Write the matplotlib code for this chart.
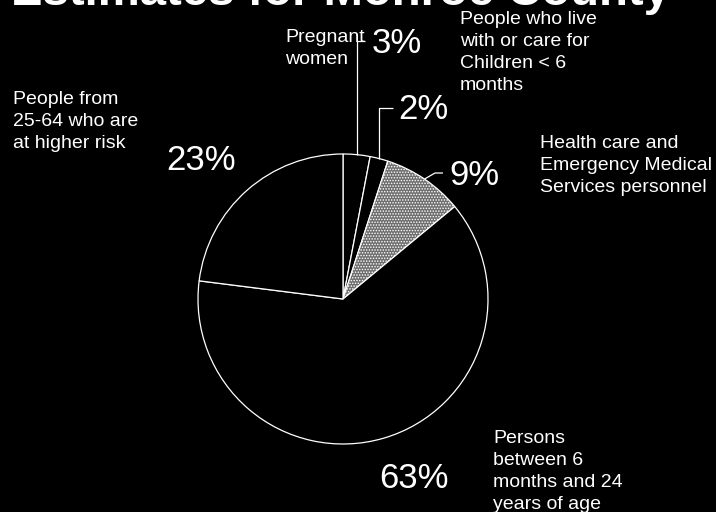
import matplotlib
matplotlib.use("Agg")
import matplotlib.pyplot as plt
import numpy as np

# ---- data ----
title = "Estimates for Monroe County"
categories = [
    "Pregnant\nwomen",
    "People who live\nwith or care for\nChildren < 6\nmonths",
    "Health care and\nEmergency Medical\nServices personnel",
    "Persons\nbetween 6\nmonths and 24\nyears of age",
    "People from\n25-64 who are\nat higher risk",
]
values = [3, 2, 9, 63, 23]

# ---- layout (pixel coords from top-left) ----
W, H = 716, 512
center_px = (343, 299)
radius_px = 145
cat_pos = [(285, 42), (460, 24), (540, 148), (493, 443), (13, 104)]
pct_pos = [(372, 53), (398, 119), (449, 185), (379, 488), (166, 170)]
line_step = 22
# leader lines: points after the slice-edge start (pixel coords); None = no leader
leaders = [
    [("x", 41), (365, 41)],
    [("x", 108), (393, 108)],
    [(435, 173), (443, 173)],
    None,
    None,
]

plt.rcParams['hatch.linewidth'] = 0.7
fig = plt.figure(figsize=(W / 100, H / 100), dpi=100, facecolor="black")
ax = fig.add_axes([0, 0, 1, 1])
ax.set_facecolor("black")

def Y(py):
    return H - py

colors = ["black", "black", "#6e6e6e", "black", "black"]
wedges, _ = ax.pie(values, colors=colors, startangle=90, counterclock=False,
                   radius=radius_px, center=(center_px[0], Y(center_px[1])),
                   wedgeprops=dict(edgecolor="white", linewidth=0.9))
wedges[2].set_hatch("......")

ax.set_xlim(0, W)
ax.set_ylim(0, H)
ax.set_aspect("equal")
ax.axis("off")

font = "Liberation Sans"

# title (mostly cropped at the top, as in the reference)
ax.text(11, Y(5), title, fontsize=34, fontweight="bold", color="white",
        family=font, ha="left", va="baseline")

cum = 0
for i, v in enumerate(values):
    mid = np.deg2rad(90 - 360 * (cum + v / 2) / sum(values))
    cum += v
    ex = center_px[0] + radius_px * np.cos(mid)
    ey = Y(center_px[1]) + radius_px * np.sin(mid)
    if leaders[i] is not None:
        xs, ys = [ex], [ey]
        for px, py in leaders[i]:
            xs.append(ex if px == "x" else px)
            ys.append(Y(py))
        ax.plot(xs, ys, color="white", lw=0.9, solid_capstyle="butt")
    # category text, line by line
    cx, cy = cat_pos[i]
    for j, line in enumerate(categories[i].split("\n")):
        ax.text(cx, Y(cy + j * line_step), line, fontsize=14, color="white",
                family=font, ha="left", va="baseline")
    px, py = pct_pos[i]
    ax.text(px, Y(py), f"{v}%", fontsize=25, color="white", family=font,
            ha="left", va="baseline")

fig.savefig("out.png", dpi=100, facecolor="black")
